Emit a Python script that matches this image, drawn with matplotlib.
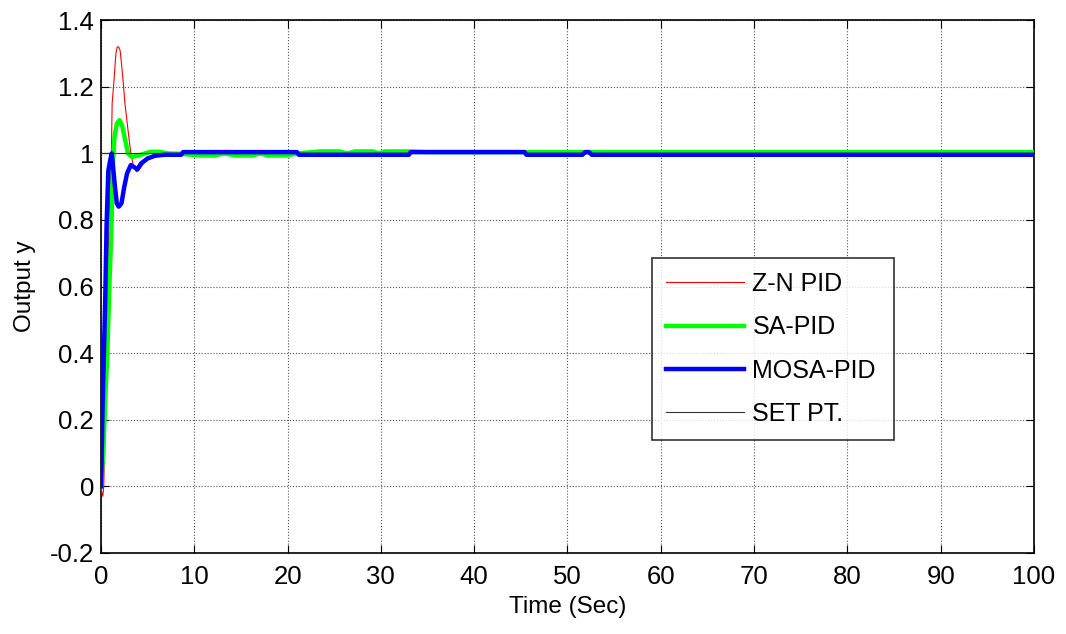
import numpy as np
import matplotlib
matplotlib.use("Agg")
import matplotlib.pyplot as plt

plt.rcParams['font.family'] = ['Liberation Sans', 'DejaVu Sans']

# Z-N PID response
ZN_T = [0, 0.1, 0.2, 0.3, 0.45, 0.6, 0.8, 0.95, 1.1, 1.2, 1.4, 1.6, 1.75, 1.9, 2.05, 2.2,
        2.4, 2.57, 2.9, 3.2, 3.5, 3.8, 4.2, 4.7, 5.3, 6.2, 100]
ZN_Y = [0, -0.02, -0.03, 0.0, 0.2, 0.45, 0.72, 0.88, 0.97, 1.15, 1.22, 1.3, 1.32, 1.32, 1.31, 1.27,
        1.21, 1.15, 1.07, 1.0, 0.96, 0.945, 0.955, 0.975, 0.99, 1.0, 1.0]

# SA-PID response
SA_T = [0, 0.25, 0.45, 0.68, 0.9, 1.15, 1.25, 1.45, 1.7, 2.0, 2.3, 2.6, 2.9, 3.3, 3.8, 4.5,
        5.3, 6.2, 7.2, 8.5, 10.6, 12.2, 13.2, 14.4, 16.2, 17.1, 17.9, 19.9, 21.0, 23.5, 25.6,
        26.4, 27.2, 29.2, 29.8, 30.4, 33.0, 35.0, 100]
SA_Y = [0, 0.1, 0.25, 0.4, 0.6, 0.8, 0.95, 1.05, 1.09, 1.1, 1.08, 1.04, 1.0, 0.99, 0.992, 0.998,
        1.005, 1.005, 1.0, 0.999, 0.994, 0.994, 1.0, 0.994, 0.994, 1.0, 0.994, 0.994, 1.0, 1.006, 1.006,
        1.0, 1.006, 1.006, 1.0, 1.006, 1.006, 1.004, 1.004]

# MOSA-PID response
MOSA_T = [0, 0.05, 0.18, 0.2, 0.43, 0.45, 0.6, 0.62, 0.78, 0.8, 1.0, 1.15, 1.3, 1.5, 1.7, 1.9,
          2.2, 2.5, 2.8, 3.2, 3.5, 3.9, 4.3, 5.0, 5.8, 6.8, 8.6, 8.8, 21.0, 21.2, 33.0, 33.2,
          45.4, 45.6, 51.6, 51.9, 52.3, 52.6, 100]
MOSA_Y = [0, 0.05, 0.25, 0.27, 0.53, 0.55, 0.78, 0.8, 0.94, 0.95, 0.98, 1.0, 0.96, 0.9, 0.85, 0.84,
          0.85, 0.9, 0.94, 0.965, 0.96, 0.952, 0.97, 0.985, 0.993, 0.996, 0.996, 1.004, 1.004, 0.996, 0.996, 1.004,
          1.004, 0.996, 0.996, 1.004, 1.004, 0.996, 0.996]

# set point
SP_T = [0, 100]
SP_Y = [1, 1]

X_TICKS = list(range(0, 101, 10))
Y_TICKS = [-0.2, 0, 0.2, 0.4, 0.6, 0.8, 1, 1.2, 1.4]
Y_LABELS = ['-0.2', '0', '0.2', '0.4', '0.6', '0.8', '1', '1.2', '1.4']

fig = plt.figure(figsize=(10.66, 6.34), dpi=100)
ax = fig.add_axes([0.0947, 0.128, 0.8753, 0.84])

ax.plot(ZN_T, ZN_Y, color='red', lw=0.8, label='Z-N PID', zorder=3)
ax.plot(SA_T, SA_Y, color='#00ff00', lw=3.2, label='SA-PID', zorder=4)
ax.plot(SP_T, SP_Y, color='#333333', lw=0.8, label='SET PT.', zorder=4.5)
ax.plot(MOSA_T, MOSA_Y, color='#0000ff', lw=3.2, label='MOSA-PID', zorder=5)

ax.set_xlim(0, 100)
ax.set_ylim(-0.2, 1.4)
ax.set_xticks(X_TICKS)
ax.set_yticks(Y_TICKS)
ax.set_yticklabels(Y_LABELS)
ax.tick_params(direction='in', length=6, labelsize=18.5, top=True, right=True)
ax.tick_params(axis='x', pad=9)
ax.tick_params(axis='y', pad=5)
ax.grid(True, color='#555555', linestyle=':', linewidth=0.8)
for s in ax.spines.values():
    s.set_linewidth(1.2)

ax.set_xlabel('Time (Sec)', fontsize=17.5, labelpad=5)
ax.set_ylabel('Output y', fontsize=17.5, labelpad=10)

h, l = ax.get_legend_handles_labels()
order = [0, 1, 3, 2]
leg = ax.legend([h[i] for i in order], [l[i] for i in order], loc='upper left',
                bbox_to_anchor=(0.591, 0.553, 0.259, 0.0), mode='expand',
                fontsize=18, frameon=True, fancybox=False, edgecolor='black',
                handlelength=3.1, handletextpad=0.35, borderpad=0.55,
                labelspacing=0.77, borderaxespad=0)
leg.get_frame().set_linewidth(1.2)

fig.savefig('out.png', dpi=100)
